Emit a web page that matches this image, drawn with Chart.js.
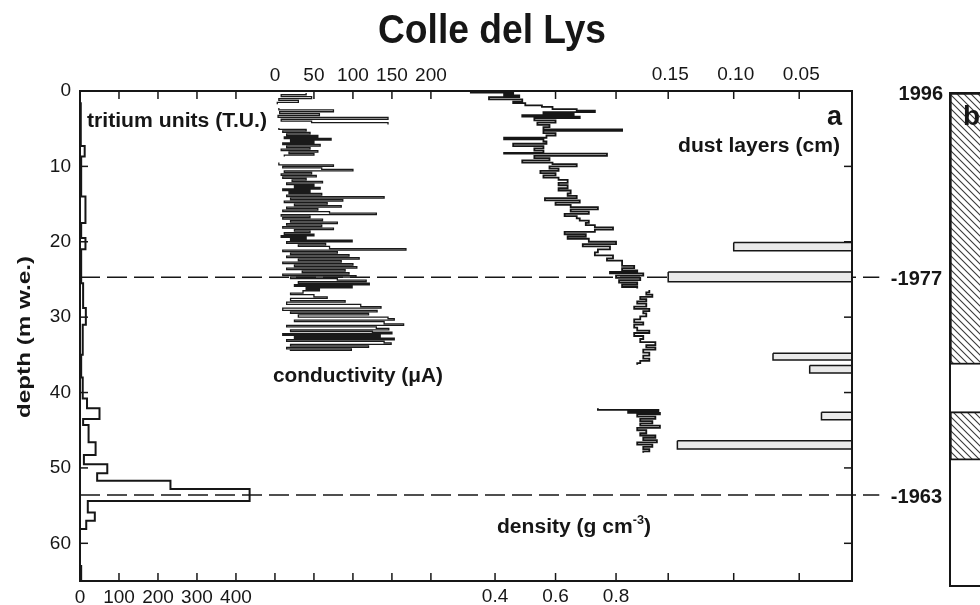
<!DOCTYPE html>
<html><head><meta charset="utf-8">
<script src="https://cdn.jsdelivr.net/npm/chart.js@4"></script>
<style>
html,body{margin:0;padding:0;background:#fff;overflow:hidden;width:980px;height:605px;}
#wrap{position:relative;width:980px;height:605px;overflow:hidden;background:#fff;}
#main{position:absolute;left:0;top:0;}
#panelb{position:absolute;left:940px;top:0;}
</style></head><body>
<div id="wrap">
<canvas id="main" width="980" height="605"></canvas>
<canvas id="panelb" width="100" height="605"></canvas>
</div>
<script>
// ---------------- DATA ----------------
const chartTitle = 'Colle del Lys';
const depthTicks = [10, 20, 30, 40, 50, 60];

// tritium (T.U.) step profile: depth edges (m w.e.) and value per interval
const tritiumDepthEdges = [1.5, 7.3, 8.7, 14, 17.5, 19.5, 21, 25.5, 28.8, 31, 35, 38, 40.8, 42.1, 43.5, 44.3, 46.6, 48.3, 49.5, 50.7, 51.7, 52.8, 54.4, 55.9, 57.0, 58.1, 63, 65];
const tritiumTU = [2, 12, 3, 14, 3, 14, 3, 8, 15, 7, 3, 7, 18, 50, 8, 22, 40, 10, 70, 44, 232, 435, 20, 38, 16, 0, 3];

// conductivity (µA) profile
const condDepth = [
  0.25,0.5,0.75,1.0,1.25,1.5,1.75,2.25,2.5,2.75,
  3.0,3.25,3.5,3.75,4.0,4.2,4.45,4.9,5.1,5.3,
  5.5,5.7,5.9,6.1,6.3,6.5,6.7,6.9,7.1,7.3,
  7.5,7.7,7.9,8.1,8.3,8.5,8.7,9.5,9.8,10.0,
  10.2,10.4,10.6,10.8,11.0,11.2,11.4,11.6,11.8,12.0,
  12.2,12.4,12.6,12.8,13.0,13.2,13.4,13.6,13.8,14.0,
  14.2,14.4,14.6,14.8,15.0,15.2,15.4,15.6,15.8,16.0,
  16.2,16.4,16.6,16.8,17.0,17.2,17.4,17.6,17.8,18.0,
  18.2,18.4,18.6,18.8,19.0,19.2,19.4,19.6,19.8,20.0,
  20.2,20.4,20.6,20.9,21.1,21.3,21.5,21.7,21.9,22.1,
  22.3,22.5,22.7,22.9,23.1,23.3,23.5,23.7,23.9,24.1,
  24.3,24.5,24.7,24.9,25.1,25.3,25.5,25.7,25.9,26.1,
  26.3,26.5,26.8,27.0,27.3,27.5,27.8,28.0,28.3,28.6,
  28.8,29.1,29.3,29.5,29.7,30.0,30.2,30.4,30.6,30.9,
  31.1,31.3,31.5,31.7,31.9,32.0,32.2,32.4,32.6,32.8,
  33.0,33.2,33.4,33.6,33.8,34.0,34.2,34.4];
const condValue = [
  40,8,47,5,30,3,null,5,75,6,
  57,4,145,8,47,145,null,5,40,10,
  45,15,55,12,72,20,50,10,58,15,
  45,8,55,18,50,12,null,5,75,10,
  60,100,12,47,8,53,10,40,22,61,
  15,50,25,58,10,45,18,60,15,140,
  20,87,12,67,25,85,15,55,10,70,
  130,8,45,10,61,20,80,15,60,10,
  75,25,45,12,50,8,40,20,99,15,
  65,30,70,168,10,80,20,95,15,108,
  30,85,10,100,25,105,15,90,35,95,
  10,104,20,80,117,30,121,25,99,40,
  57,36,20,50,67,20,90,15,110,136,
  10,131,20,120,30,145,153,25,140,165,
  15,130,146,20,125,150,10,135,25,153,
  15,140,149,20,120,15,98,19];

// density (g cm-3): sample start depth and value (null = gap / end)
const densityDepth = [
  0.0,0.2,0.4,0.6,0.8,1.1,1.4,1.6,1.9,2.1,
  2.4,2.6,2.8,3.0,3.2,3.4,3.6,3.9,4.2,4.5,
  4.8,5.1,5.3,5.6,5.9,6.2,6.4,6.7,7.0,7.3,
  7.6,7.9,8.2,8.3,8.6,8.9,9.2,9.5,9.7,10.0,
  10.3,10.6,10.9,11.2,11.5,11.8,12.2,12.5,12.9,13.2,
  13.6,13.9,14.2,14.5,14.8,15.1,15.4,15.7,16.0,16.3,
  16.6,16.9,17.2,17.5,17.8,18.1,18.4,18.7,19.0,19.3,
  19.6,20.0,20.3,20.6,21.0,21.4,21.8,22.2,22.5,22.9,
  23.2,23.5,23.8,24.0,24.2,24.5,24.8,25.1,25.4,25.7,
  26.0,26.2,26.4,26.7,27.0,27.3,27.6,27.9,28.2,28.6,
  28.9,29.2,29.5,29.9,30.3,30.7,31.0,31.4,31.8,32.1,
  32.5,32.9,33.3,33.7,34.0,34.3,34.7,35.1,35.5,35.8,
  36.1,36.3,42.1,42.3,42.5,42.7,42.9,43.2,43.5,43.8,
  44.1,44.4,44.7,45.0,45.4,45.7,46.0,46.3,46.6,46.9,
  47.2,47.5,47.8,48.0];
const densityValue = [
  0.32,0.46,0.43,0.48,0.38,0.49,0.46,0.50,0.555,0.59,
  0.67,0.73,0.56,0.66,0.49,0.68,0.53,0.60,0.54,0.58,
  0.56,0.82,0.56,0.60,0.57,0.43,0.56,0.57,0.46,0.56,
  0.53,0.56,0.43,0.77,0.53,0.58,0.49,0.59,0.67,0.58,
  0.61,0.55,0.60,0.56,0.61,0.64,0.61,0.64,0.61,0.65,
  0.64,0.67,0.565,0.68,0.60,0.65,0.74,0.65,0.71,0.63,
  0.67,0.68,0.71,0.70,0.73,0.79,0.73,0.63,0.70,0.64,
  0.71,0.80,0.69,0.78,0.74,0.73,0.79,0.77,0.82,0.82,
  0.86,0.82,0.87,0.78,0.89,0.80,0.88,0.81,0.87,0.82,
  0.87,null,0.91,0.90,0.92,0.88,0.90,0.87,0.90,0.86,
  0.91,0.89,0.90,0.88,0.86,0.89,0.86,0.87,0.91,0.86,
  0.89,0.88,0.93,0.90,0.93,0.89,0.91,0.89,0.91,0.88,
  0.87,null,0.74,0.94,0.84,0.945,0.87,0.93,0.88,0.92,
  0.88,0.945,0.87,0.90,0.88,0.93,0.89,0.935,0.87,0.92,
  0.89,0.91,0.89,null];

// dust layers (cm)
const dustTop    = [20.1, 24.0, 34.8, 36.4, 42.6, 46.4];
const dustBottom = [21.2, 25.3, 35.7, 37.4, 43.6, 47.5];
const dustCm     = [0.10, 0.15, 0.07, 0.042, 0.033, 0.143];

// dated horizons
const horizonYears = ['1977', '1963'];
const horizonDepth = [24.7, 53.6];

// tick values / labels
const tritiumLabels = [0, 100, 200, 300, 400];
const condLabels = [0, 50, 100, 150, 200];
const densityLabels = ['0.4', '0.6', '0.8'];
const dustLabels = ['0.15', '0.10', '0.05'];
const topTritiumTicks = [100, 200, 300, 400];
const topCondTicks = [50, 100, 150, 200];
const topDensityTicks = [0.6, 0.8];
const topDustTicks = [0.15, 0.10, 0.05];
const bottomTritiumTicks = [100, 200, 300, 400];
const bottomCondTicks = [0, 50, 100, 150, 200];
const bottomDensityTicks = [0.4, 0.6, 0.8];
const bottomDustTicks = [0.15, 0.10, 0.05];

// panel b: hatched depth intervals
const panelBHatched = [[0, 35.8], [42.0, 48.4]];

// ---------------- RENDER ----------------
const FONT = '"Liberation Sans", Arial, Helvetica, sans-serif';
const INK = '#161616';
Chart.defaults.font.family = FONT;
Chart.defaults.color = INK;

function stepEdges(edges, values) {
  const pts = [];
  values.forEach((v, i) => { pts.push({x: v, y: edges[i]}); pts.push({x: v, y: edges[i + 1]}); });
  return pts;
}
// step profile from samples; a null value breaks the line
function stepSamples(depths, values) {
  const pts = [];
  for (let i = 0; i < values.length; i++) {
    const v = values[i];
    if (v === null) { pts.push({x: null, y: depths[i]}); continue; }
    pts.push({x: v, y: depths[i]});
    if (i + 1 < values.length) pts.push({x: v, y: depths[i + 1]});
  }
  return pts;
}

function drawText(ctx, s, x, y, font, align, width) {
  ctx.save();
  ctx.font = font; ctx.fillStyle = INK; ctx.textBaseline = 'alphabetic'; ctx.textAlign = align;
  const w = ctx.measureText(s).width;
  ctx.translate(x, y);
  if (width) ctx.scale(width / w, 1);
  ctx.fillText(s, 0, 0);
  ctx.restore();
}

const decor = {
  id: 'decor',
  beforeDatasetsDraw(chart) {
    const {ctx, chartArea: a, scales: s} = chart;
    ctx.save(); ctx.strokeStyle = INK; ctx.lineWidth = 1.5;
    const seg = (x1, y1, x2, y2) => { ctx.beginPath(); ctx.moveTo(x1, y1); ctx.lineTo(x2, y2); ctx.stroke(); };
    const L = 8;
    depthTicks.forEach(d => { const y = s.y.getPixelForValue(d); seg(a.left, y, a.left + L, y); seg(a.right, y, a.right - L, y); });
    [[s.x, topTritiumTicks], [s.xc, topCondTicks], [s.xd, topDensityTicks], [s.xu, topDustTicks]]
      .forEach(([sc, vals]) => vals.forEach(v => { const x = sc.getPixelForValue(v); seg(x, a.top, x, a.top + L); }));
    [[s.x, bottomTritiumTicks], [s.xc, bottomCondTicks], [s.xd, bottomDensityTicks], [s.xu, bottomDustTicks]]
      .forEach(([sc, vals]) => vals.forEach(v => { const x = sc.getPixelForValue(v); seg(x, a.bottom, x, a.bottom - L); }));
    ctx.restore();
  },
  afterDatasetsDraw(chart) {
    const {ctx, chartArea: a, scales: s} = chart;
    ctx.save();
    ctx.strokeStyle = INK; ctx.lineWidth = 2;
    ctx.strokeRect(a.left, a.top, a.right - a.left, a.bottom - a.top);
    // extra tick labels
    ctx.font = '19px ' + FONT; ctx.fillStyle = INK; ctx.textAlign = 'center'; ctx.textBaseline = 'middle';
    densityLabels.forEach(t => ctx.fillText(t, s.xd.getPixelForValue(parseFloat(t)), 597));
    dustLabels.forEach(t => ctx.fillText(t, s.xu.getPixelForValue(parseFloat(t)) + 2, 75));
    ctx.restore();

    // title
    drawText(ctx, chartTitle, 492, 43, 'bold 40px ' + FONT, 'center', 228);
    // depth axis title (rotated)
    ctx.save();
    ctx.translate(25, 337); ctx.rotate(-Math.PI / 2);
    ctx.font = 'bold 18px ' + FONT;
    const dt = 'depth (m w.e.)';
    const w = ctx.measureText(dt).width;
    ctx.scale(162 / w, 1);
    ctx.fillStyle = INK; ctx.textAlign = 'center'; ctx.textBaseline = 'middle';
    ctx.fillText(dt, 0, 0);
    ctx.restore();

    // in-plot labels
    drawText(ctx, 'tritium units (T.U.)', 87, 127, 'bold 20px ' + FONT, 'left', 180);
    drawText(ctx, 'conductivity (\u03bcA)', 273, 382, 'bold 20px ' + FONT, 'left', 170);
    drawText(ctx, 'dust layers (cm)', 840, 152, 'bold 20px ' + FONT, 'right', 162);
    drawText(ctx, 'a', 842, 125, 'bold 27px ' + FONT, 'right');
    // density label with superscript
    ctx.save();
    const f1 = 'bold 20px ' + FONT, f2 = 'bold 12px ' + FONT;
    ctx.font = f1; const wa = ctx.measureText('density (g cm').width; const wc = ctx.measureText(')').width;
    ctx.font = f2; const wb = ctx.measureText('-3').width;
    const k = 154 / (wa + wb + wc);
    ctx.translate(497, 533); ctx.scale(k, 1);
    ctx.fillStyle = INK; ctx.textAlign = 'left'; ctx.textBaseline = 'alphabetic';
    ctx.font = f1; ctx.fillText('density (g cm', 0, 0);
    ctx.font = f2; ctx.fillText('-3', wa, -9);
    ctx.font = f1; ctx.fillText(')', wa + wb, 0);
    ctx.restore();

    // horizon years
    horizonYears.forEach((yr, i) => {
      const y = s.y.getPixelForValue(horizonDepth[i]);
      drawText(ctx, '-' + yr, 942, y + 8, 'bold 20px ' + FONT, 'right');
    });
    drawText(ctx, '1996', 943, 100, 'bold 20px ' + FONT, 'right');
  }
};

const datasets = [];
datasets.push({
  label: 'tritium', data: stepEdges(tritiumDepthEdges, tritiumTU),
  xAxisID: 'x', yAxisID: 'y', borderColor: INK, borderWidth: 2, pointRadius: 0, fill: false
});
datasets.push({
  label: 'conductivity', data: stepSamples(condDepth, condValue),
  xAxisID: 'xc', yAxisID: 'y', borderColor: '#1a1a1a', borderWidth: 1.3, pointRadius: 0, fill: false
});
datasets.push({
  label: 'density', data: stepSamples(densityDepth, densityValue),
  xAxisID: 'xd', yAxisID: 'y', borderColor: INK, borderWidth: 1.8, pointRadius: 0, fill: false
});
dustCm.forEach((v, i) => {
  datasets.push({
    label: 'dust ' + i,
    data: [{x: v, y: dustTop[i]}, {x: 0, y: dustTop[i]}, {x: 0, y: dustBottom[i]}, {x: v, y: dustBottom[i]}, {x: v, y: dustTop[i]}],
    xAxisID: 'xu', yAxisID: 'y', borderColor: INK, borderWidth: 1.5, backgroundColor: '#e9e9e9',
    pointRadius: 0, fill: 'shape'
  });
});
horizonYears.forEach((yr, i) => {
  datasets.push({
    label: yr, data: [{x: 0, y: horizonDepth[i]}, {x: 2050, y: horizonDepth[i]}],
    xAxisID: 'x', yAxisID: 'y', borderColor: INK, borderWidth: 1.5, borderDash: [20, 7],
    pointRadius: 0, fill: false, clip: false
  });
});

new Chart(document.getElementById('main'), {
  type: 'line',
  data: {datasets},
  options: {
    responsive: false, animation: false, events: [],
    layout: {padding: {left: 0, right: 128, top: 0, bottom: 0}},
    plugins: {legend: {display: false}, tooltip: {enabled: false}, title: {display: false}},
    elements: {line: {tension: 0}},
    scales: {
      y: {
        type: 'linear', position: 'left', reverse: true, min: 0, max: 65,
        ticks: {stepSize: 10, includeBounds: false, font: {size: 19}, color: INK, padding: 9},
        grid: {display: false, drawTicks: false}, border: {display: false},
        afterFit: sc => { sc.width = 80; }
      },
      x: {
        type: 'linear', position: 'bottom', min: 0, max: 1980,
        ticks: {stepSize: 100, includeBounds: false, autoSkip: false, maxRotation: 0, font: {size: 19}, color: INK, padding: 5,
          callback: v => tritiumLabels.includes(v) ? String(v) : ''},
        grid: {display: false, drawTicks: false}, border: {display: false},
        afterFit: sc => { sc.height = 24; }
      },
      xc: {
        type: 'linear', position: 'top', min: -250, max: 740,
        ticks: {stepSize: 50, includeBounds: false, autoSkip: false, maxRotation: 0, font: {size: 19}, color: INK, padding: 4,
          callback: v => condLabels.includes(v) ? String(v) : ''},
        grid: {display: false, drawTicks: false}, border: {display: false},
        afterFit: sc => { sc.height = 91; }
      },
      xd: {type: 'linear', display: false, min: -0.972, max: 1.58},
      xu: {type: 'linear', display: false, min: 0.0097, max: 0.599, reverse: true}
    }
  },
  plugins: [decor]
});

// ---------- panel b ----------
const hatch = (() => {
  const c = document.createElement('canvas'); c.width = 7; c.height = 7;
  const g = c.getContext('2d');
  g.fillStyle = '#fff'; g.fillRect(0, 0, 7, 7);
  g.strokeStyle = '#3a3a3a'; g.lineWidth = 1.1;
  g.beginPath(); g.moveTo(0, 0); g.lineTo(7, 7); g.moveTo(-1, 6); g.lineTo(1, 8); g.moveTo(6, -1); g.lineTo(8, 1); g.stroke();
  return g.createPattern(c, 'repeat');
})();

const panelB = {
  id: 'panelB',
  afterDatasetsDraw(chart) {
    const {ctx, chartArea: a} = chart;
    ctx.save(); ctx.strokeStyle = INK; ctx.lineWidth = 2;
    ctx.strokeRect(a.left, a.top, a.right - a.left, a.bottom - a.top);
    ctx.restore();
    drawText(ctx, 'b', 23, 125, 'bold 28px ' + FONT, 'left');
  }
};

new Chart(document.getElementById('panelb'), {
  type: 'bar',
  data: {
    labels: ['core'],
    datasets: panelBHatched.map((r, i) => ({
      label: 'hatched ' + i, data: [r], backgroundColor: hatch, borderColor: INK, borderWidth: 2,
      borderSkipped: false, grouped: false, barPercentage: 1, categoryPercentage: 1
    }))
  },
  options: {
    responsive: false, animation: false, events: [],
    layout: {padding: {left: 10, right: 0, top: 93, bottom: 19}},
    plugins: {legend: {display: false}, tooltip: {enabled: false}},
    scales: {
      x: {display: false},
      y: {display: false, min: 0, max: 65, reverse: true}
    }
  },
  plugins: [panelB]
});
</script>
</body></html>
